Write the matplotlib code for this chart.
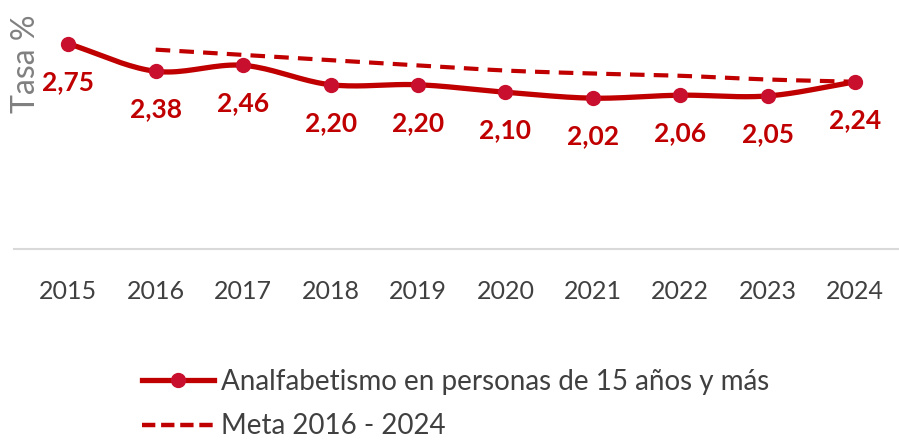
import numpy as np
import matplotlib
matplotlib.use("Agg")
import matplotlib.pyplot as plt

years = ["2015", "2016", "2017", "2018", "2019", "2020", "2021", "2022", "2023", "2024"]
tasa = [2.75, 2.38, 2.46, 2.20, 2.20, 2.10, 2.02, 2.06, 2.05, 2.24]
labels = ["2,75", "2,38", "2,46", "2,20", "2,20", "2,10", "2,02", "2,06", "2,05", "2,24"]
meta_years = ["2016", "2017", "2018", "2019", "2020", "2021", "2022", "2023", "2024"]
meta = [2.67, 2.60, 2.53, 2.46, 2.39, 2.35, 2.32, 2.27, 2.24]

plt.rcParams['font.family'] = ['Lato', 'DejaVu Sans']

def smooth(x, y, n=20):
    # Catmull-Rom style smoothing for display (like Excel smoothed lines)
    x = np.asarray(x, float); y = np.asarray(y, float)
    px = np.concatenate([[2*x[0]-x[1]], x, [2*x[-1]-x[-2]]])
    py = np.concatenate([[2*y[0]-y[1]], y, [2*y[-1]-y[-2]]])
    xs, ys = [], []
    for i in range(1, len(px)-2):
        t = np.linspace(0, 1, n, endpoint=False)
        for P, out in ((px, xs), (py, ys)):
            p0, p1, p2, p3 = P[i-1], P[i], P[i+1], P[i+2]
            out.extend(0.5*((2*p1) + (-p0+p2)*t + (2*p0-5*p1+4*p2-p3)*t**2 + (-p0+3*p1-3*p2+p3)*t**3))
    xs.append(x[-1]); ys.append(y[-1])
    return np.array(xs), np.array(ys)

fig = plt.figure(figsize=(8.99, 4.41), dpi=100)
ax = fig.add_axes([14/899, (441-249)/441, (899-14)/899, (249-25)/441])

x = np.arange(len(years))
mx = np.array([years.index(y) for y in meta_years])

red = "#C00000"
sx, sy = smooth(x, tasa)
ax.plot(sx, sy, color=red, lw=3.8, solid_capstyle='round', zorder=3)
ax.plot(x, tasa, 'o', color="#C8102E", ms=10, zorder=4)
mxs, mys = smooth(mx, meta)
ax.plot(mxs, mys, color=red, lw=3, ls=(0, (3.5, 2.2)), zorder=2)

for xi, v, lab in zip(x, tasa, labels):
    ax.annotate(lab, (xi, v), xytext=(0, -38), textcoords='offset pixels',
                ha='center', va='center', fontsize=19, fontweight='bold', color=red)

ax.set_xlim(-0.62, 9.5)
ax.set_ylim(0, 3)
ax.set_yticks([])
ax.set_xticks(x)
ax.set_xticklabels(years, fontsize=18, color="#404040")
ax.tick_params(axis='x', length=0, pad=22)
for s in ['top', 'right', 'left']:
    ax.spines[s].set_visible(False)
ax.spines['bottom'].set_color("#D9D9D9")
ax.spines['bottom'].set_linewidth(1.5)

fig.text(26/899, 1-64/441, "Tasa %", rotation=90, ha='center', va='center',
         fontsize=23, color="#808080")

from matplotlib.lines import Line2D
h1 = Line2D([], [], color=red, lw=3.8, marker='o', ms=10, mfc="#C8102E", mec="#C8102E")
h2 = Line2D([], [], color=red, lw=3.2, ls=(0, (3.0, 1.3)))
fig.legend([h1, h2], ["Analfabetismo en personas de 15 años y más", "Meta 2016 - 2024"],
           loc='upper left', bbox_to_anchor=(142/899, 1-369/441), frameon=False,
           fontsize=20, labelcolor="#404040", handlelength=2.6, handletextpad=0.25,
           labelspacing=0.66, borderaxespad=0, borderpad=0)

fig.savefig("out.png", dpi=100)
